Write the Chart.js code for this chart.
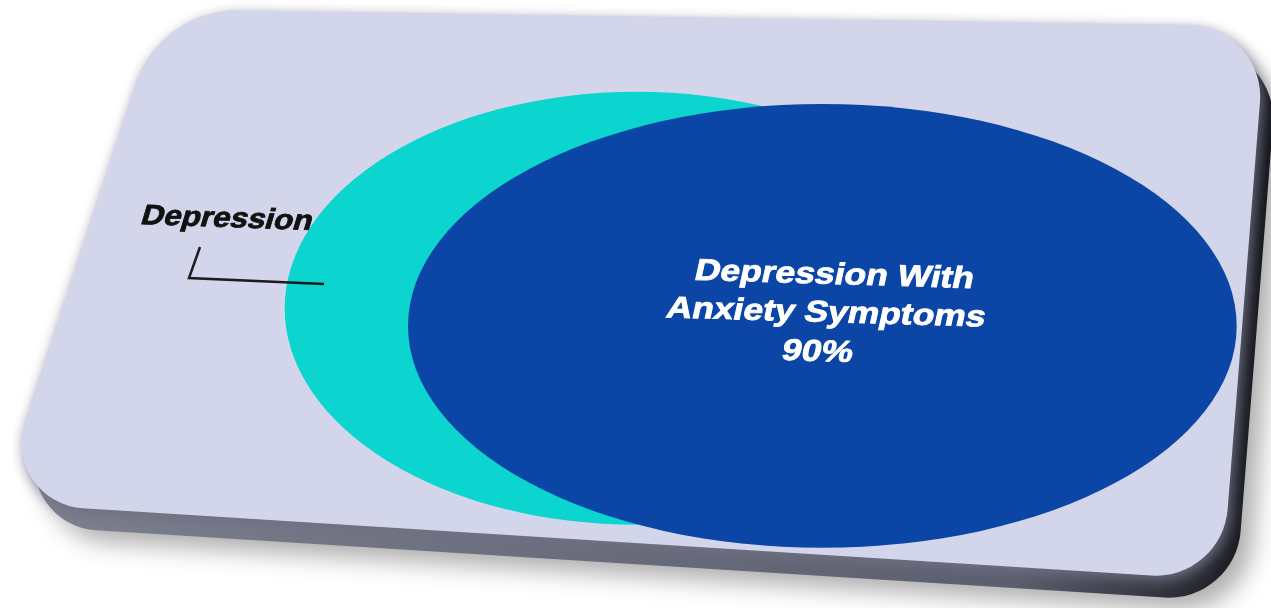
<!DOCTYPE html>
<html>
<head>
<meta charset="utf-8">
<title>Depression and anxiety symptoms</title>
<script src="https://cdn.jsdelivr.net/npm/chart.js@4.4.1/dist/chart.umd.min.js"></script>
<style>
  html, body { margin: 0; padding: 0; background: #ffffff; }
  #wrap { width: 1271px; height: 608px; }
</style>
</head>
<body>
<div id="wrap"><canvas id="vennChart" width="1271" height="608"></canvas></div>
<script>
// dados do diagrama (unidades das escalas 0-100)
const categories = ['Depression', 'Depression With Anxiety Symptoms'];
const shares = [100, 90];
const centerX = [50.1, 64.7];
const centerY = [49.3, 46.4];
const radiusX = [27.7, 32.6];
const radiusY = [35.6, 36.5];
const colors = ['#0cd4cf', '#0b46a6'];

// cartão em perspectiva com cantos arredondados
function cardPath(ctx, pts, radii, ox, oy) {
    const n = pts.length;
    ctx.beginPath();
    ctx.moveTo((pts[0][0] + pts[n - 1][0]) / 2 + ox, (pts[0][1] + pts[n - 1][1]) / 2 + oy);
    for (let i = 0; i < n; i++) {
        const p = pts[i], q = pts[(i + 1) % n];
        ctx.arcTo(p[0] + ox, p[1] + oy, q[0] + ox, q[1] + oy, radii[i]);
    }
    ctx.closePath();
}

const cardPlugin = {
    id: 'card',
    beforeDraw(chart) {
        const ctx = chart.ctx;
        const corners = [[160, 9], [1266, 26], [1222, 580], [-2, 503]];
        const radii = [108, 72, 72, 66];
        ctx.save();
        // borda / espessura do cartão
        const g = ctx.createLinearGradient(0, 0, chart.width, 0);
        g.addColorStop(0, '#7d808e');
        g.addColorStop(0.8, '#5a5d6c');
        g.addColorStop(1, '#121318');
        cardPath(ctx, corners, radii, 13, 22);
        ctx.shadowColor = 'rgba(0,0,0,0.32)';
        ctx.shadowBlur = 24;
        ctx.shadowOffsetX = 12;
        ctx.shadowOffsetY = 12;
        ctx.fillStyle = g;
        ctx.fill();
        // face superior
        cardPath(ctx, corners, radii, 0, 0);
        ctx.shadowColor = 'rgba(110,112,132,0.95)';
        ctx.shadowBlur = 14;
        ctx.shadowOffsetX = 3;
        ctx.shadowOffsetY = 5;
        ctx.fillStyle = '#d3d5ea';
        ctx.fill();
        ctx.restore();
    }
};

const vennPlugin = {
    id: 'venn',
    afterDatasetsDraw(chart) {
        const ctx = chart.ctx;
        const xs = chart.scales.x, ys = chart.scales.y;
        ctx.save();
        categories.forEach((name, i) => {
            const cx = xs.getPixelForValue(centerX[i]);
            const cy = ys.getPixelForValue(centerY[i]);
            const rx = xs.getPixelForValue(centerX[i] + radiusX[i]) - cx;
            const ry = cy - ys.getPixelForValue(centerY[i] + radiusY[i]);
            ctx.beginPath();
            ctx.ellipse(cx, cy, rx, ry, 0, 0, Math.PI * 2);
            ctx.fillStyle = colors[i];
            ctx.fill();
        });

        // rótulo externo com linha de chamada
        ctx.strokeStyle = '#1c1c1c';
        ctx.lineWidth = 2.5;
        ctx.beginPath();
        ctx.moveTo(200, 247);
        ctx.lineTo(189, 278);
        ctx.lineTo(324, 284);
        ctx.stroke();

        ctx.save();
        ctx.translate(225, 227);
        ctx.transform(1.12, 0.04, -0.3, 1, 0, 0);
        ctx.font = 'bold 28px "Liberation Sans", Arial, sans-serif';
        ctx.textAlign = 'center';
        ctx.textBaseline = 'alphabetic';
        ctx.fillStyle = '#111111';
        ctx.strokeStyle = '#111111';
        ctx.lineWidth = 0.8;
        ctx.fillText(categories[0], 0, 0);
        ctx.strokeText(categories[0], 0, 0);
        ctx.restore();

        // rótulo interno
        const words = categories[1].split(' ');
        const lines = [words.slice(0, 2).join(' '), words.slice(2).join(' '), shares[1] + '%'];
        const bx = xs.getPixelForValue(centerX[1]);
        const by = ys.getPixelForValue(centerY[1]);
        ctx.save();
        ctx.translate(bx + 2, by - 4);
        ctx.transform(1.18, 0.035, -0.22, 1, 0, 0);
        ctx.font = 'bold 30px "Liberation Sans", Arial, sans-serif';
        ctx.textAlign = 'center';
        ctx.textBaseline = 'alphabetic';
        ctx.fillStyle = '#ffffff';
        ctx.strokeStyle = '#ffffff';
        ctx.lineWidth = 0.8;
        [-38, 0, 39].forEach((dy, k) => {
            ctx.fillText(lines[k], 0, dy);
            ctx.strokeText(lines[k], 0, dy);
        });
        ctx.restore();
        ctx.restore();
    }
};

document.addEventListener('DOMContentLoaded', function() {
    const el = document.getElementById('vennChart');
    new Chart(el, {
        type: 'scatter',
        data: {
            datasets: categories.map((name, i) => ({
                label: name,
                data: [{ x: centerX[i], y: centerY[i] }],
                backgroundColor: colors[i],
                pointRadius: 0,
                pointHoverRadius: 0
            }))
        },
        options: {
            responsive: false,
            animation: false,
            layout: { padding: 0 },
            plugins: {
                legend: { display: false },
                tooltip: { enabled: false }
            },
            scales: {
                x: { display: false, min: 0, max: 100 },
                y: { display: false, min: 0, max: 100 }
            }
        },
        plugins: [cardPlugin, vennPlugin]
    });
});
</script>
</body>
</html>
